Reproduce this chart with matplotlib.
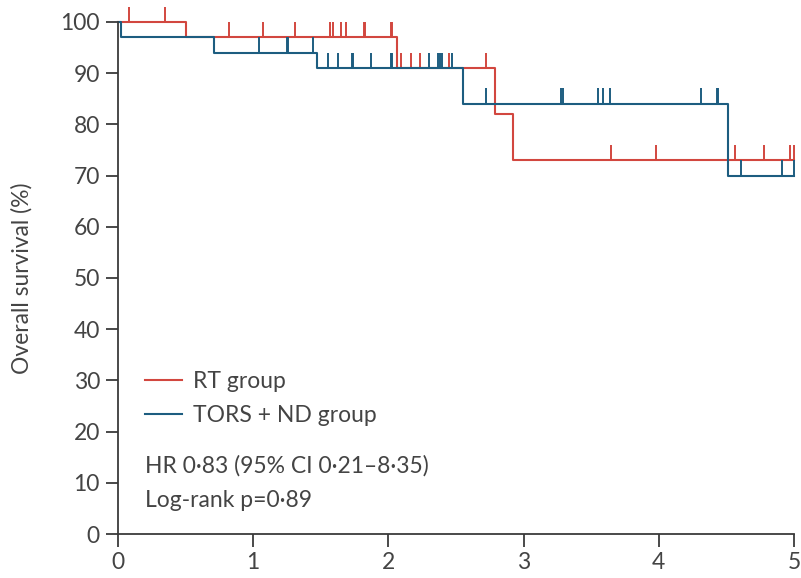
import matplotlib
matplotlib.use("Agg")
import matplotlib.pyplot as plt

# Kaplan-Meier steps (years, % surviving)
rt_event_times = [0.50, 2.06, 2.79, 2.92]
rt_surv = [100, 97, 91, 82, 73]
rt_censor = [0.08, 0.35, 0.82, 1.07, 1.31, 1.57, 1.59, 1.65, 1.69, 1.82, 1.83,
             2.02, 2.03, 2.09, 2.17, 2.23, 2.45, 2.72, 3.65, 3.98, 4.56, 4.78,
             4.97, 5.0]

tors_event_times = [0.02, 0.71, 1.47, 2.55, 4.51]
tors_surv = [100, 97, 94, 91, 84, 70]
tors_censor = [1.04, 1.25, 1.26, 1.44, 1.55, 1.63, 1.73, 1.74, 1.87, 2.02, 2.03,
               2.30, 2.37, 2.38, 2.40, 2.47, 2.72, 3.28, 3.29, 3.55, 3.59, 3.64,
               4.31, 4.43, 4.44, 4.61, 4.91, 5.0]

x_ticks = [0, 1, 2, 3, 4, 5]
y_ticks = [0, 10, 20, 30, 40, 50, 60, 70, 80, 90, 100]

RED = "#d2473f"
BLUE = "#1d5d80"
GREY = "#3a3a3a"
TXT = "#444444"

plt.rcParams["font.family"] = ["Lato", "DejaVu Sans"]


def surv_at(times, surv, t):
    level = surv[0]
    for et, s in zip(times, surv[1:]):
        if t >= et:
            level = s
    return level


def draw_group(ax, times, surv, censor, color, label):
    xs = [0] + times + [5]
    ys = surv + [surv[-1]]
    ax.step(xs, ys, where="post", color=color, lw=1.5, label=label, clip_on=False)
    heights = [surv_at(times, surv, t) for t in censor]
    ax.vlines(censor, heights, [h + 3 for h in heights], color=color, lw=1.4,
              clip_on=False)


fig = plt.figure(figsize=(8.01, 5.78), dpi=100)
ax = fig.add_axes([0.1473, 0.0761, 0.8440, 0.886])

draw_group(ax, rt_event_times, rt_surv, rt_censor, RED, "RT group")
draw_group(ax, tors_event_times, tors_surv, tors_censor, BLUE, "TORS + ND group")

ax.set_xlim(0, 5)
ax.set_ylim(0, 100)
ax.set_xticks(x_ticks)
ax.set_yticks(y_ticks)
for side in ("top", "right"):
    ax.spines[side].set_visible(False)
for side in ("left", "bottom"):
    ax.spines[side].set_color(GREY)
    ax.spines[side].set_linewidth(1.3)
ax.tick_params(direction="out", length=9, width=1.3, color=GREY,
               labelsize=16.5, labelcolor=TXT, pad=4)
ax.set_ylabel("Overall survival (%)", fontsize=16.5, color=TXT, labelpad=20)

ax.legend(loc="center left", bbox_to_anchor=(0.01, 0.265), frameon=False,
          fontsize=16.5, handlelength=1.6, handletextpad=0.5, labelspacing=0.55,
          labelcolor=TXT)
ax.text(0.04, 0.133, "HR 0·83 (95% CI 0·21–8·35)", transform=ax.transAxes,
        fontsize=16.5, color=TXT, va="center")
ax.text(0.04, 0.066, "Log-rank p=0·89", transform=ax.transAxes,
        fontsize=16.5, color=TXT, va="center")

fig.savefig("out.png", dpi=100)
